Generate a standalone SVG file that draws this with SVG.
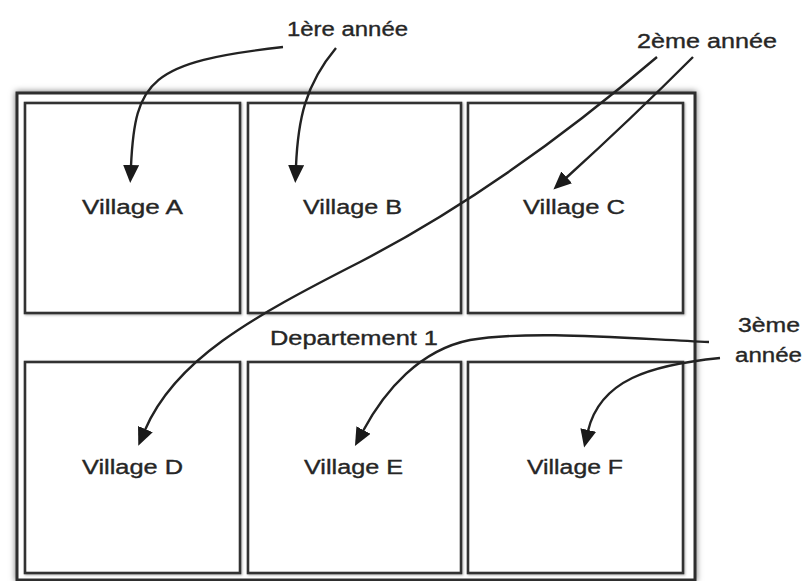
<svg xmlns="http://www.w3.org/2000/svg" width="806" height="581" viewBox="0 0 806 581">
<style>
.frame{fill:#fff;stroke:#2e2e2e;stroke-width:3}
.box{fill:#fff;stroke:#333;stroke-width:2.6}
.lbl{font-family:"Liberation Sans",Arial,sans-serif;font-size:20px;fill:#262626;stroke:#262626;stroke-width:0.35}
.arr{fill:none;stroke:#222;stroke-width:2.4}
</style>
<defs>
<filter id="sh" x="-5%" y="-5%" width="110%" height="110%">
<feDropShadow dx="0" dy="0" stdDeviation="3" flood-color="#000" flood-opacity="0.55"/>
</filter>
<filter id="sh2" x="-5%" y="-5%" width="110%" height="110%">
<feDropShadow dx="1" dy="1" stdDeviation="1" flood-color="#000" flood-opacity="0.3"/>
</filter>
<marker id="ah" viewBox="0 0 18 16" refX="1" refY="8" markerWidth="18" markerHeight="16" markerUnits="userSpaceOnUse" orient="auto">
<path d="M0,0 L18,8 L0,16 z" fill="#1a1a1a"/>
</marker>
</defs>
<rect width="806" height="581" fill="#fff"/>
<g id="departement">
<rect class="frame" x="17" y="93" width="678" height="487" filter="url(#sh)"/>
<text class="lbl" x="270" y="345" textLength="168" lengthAdjust="spacingAndGlyphs">Departement 1</text>
</g>
<g id="villageA">
<rect class="box" x="25" y="103" width="215" height="210" filter="url(#sh2)"/>
<text class="lbl" x="82" y="214" textLength="101" lengthAdjust="spacingAndGlyphs">Village A</text>
</g>
<g id="villageB">
<rect class="box" x="248" y="103" width="213" height="210" filter="url(#sh2)"/>
<text class="lbl" x="303" y="214" textLength="99" lengthAdjust="spacingAndGlyphs">Village B</text>
</g>
<g id="villageC">
<rect class="box" x="468" y="103" width="215" height="210" filter="url(#sh2)"/>
<text class="lbl" x="523" y="214" textLength="102" lengthAdjust="spacingAndGlyphs">Village C</text>
</g>
<g id="villageD">
<rect class="box" x="25" y="362" width="215" height="211" filter="url(#sh2)"/>
<text class="lbl" x="82" y="474" textLength="101" lengthAdjust="spacingAndGlyphs">Village D</text>
</g>
<g id="villageE">
<rect class="box" x="248" y="362" width="213" height="211" filter="url(#sh2)"/>
<text class="lbl" x="304" y="474" textLength="99" lengthAdjust="spacingAndGlyphs">Village E</text>
</g>
<g id="villageF">
<rect class="box" x="468" y="362" width="215" height="211" filter="url(#sh2)"/>
<text class="lbl" x="527" y="474" textLength="96" lengthAdjust="spacingAndGlyphs">Village F</text>
</g>
<g id="annee1">
<text class="lbl" x="287" y="36" textLength="121" lengthAdjust="spacingAndGlyphs">1ère année</text>
</g>
<g id="annee2">
<text class="lbl" x="637" y="48" textLength="140" lengthAdjust="spacingAndGlyphs">2ème année</text>
</g>
<g id="annee3">
<text class="lbl" x="738" y="332" textLength="62" lengthAdjust="spacingAndGlyphs">3ème</text>
<text class="lbl" x="735" y="362" textLength="67" lengthAdjust="spacingAndGlyphs">année</text>
</g>
<g id="connectors">
<path class="arr" marker-end="url(#ah)" d="M283,47 C150,62 135,80 131,166"/>
<path class="arr" marker-end="url(#ah)" d="M336,48 C305,85 298,120 296,166"/>
<path class="arr" marker-end="url(#ah)" d="M657,57 C560,140 460,210 360,262 C250,318 175,360 145,430"/>
<path class="arr" marker-end="url(#ah)" d="M693,57 Q630,120 566,178"/>
<path class="arr" marker-end="url(#ah)" d="M709,342 C620,338 530,330 470,340 C420,350 385,390 363,431"/>
<path class="arr" marker-end="url(#ah)" d="M720,358 C650,365 600,380 588,431"/>
</g>
</svg>
